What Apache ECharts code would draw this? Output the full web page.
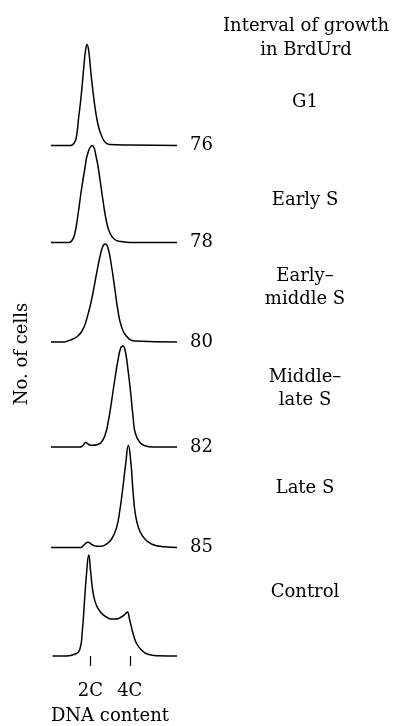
<!DOCTYPE html>
<html>
<head>
<meta charset="utf-8">
<title>DNA content histograms</title>
<script src="https://cdn.jsdelivr.net/npm/echarts@6/dist/echarts.min.js"></script>
<style>
  html, body { margin: 0; padding: 0; background: #fff; }
  #main { width: 394px; height: 726px; }
</style>
</head>
<body>
<div id="main"></div>
<script>
// DNA content channel (2C = 50, 4C = 100) vs relative no. of cells
var g1 = [[0,0],[25,0],[29,2],[32,7.5],[35,27],[38.5,51],[41.5,77],[44,96],[45.7,101],[48,94],[50.5,74],[53.3,54],[56.3,36],[59.7,21],[64,10],[69,3],[74.5,1],[100,0.5],[160,0]];
var earlyS = [[0,0],[23,0],[26.5,1.7],[30,8],[34.3,28],[38.5,52],[42.8,73],[47,90],[52.4,97],[57.5,85],[61.8,65],[66,42],[70.2,22],[74.5,10],[80.9,3],[89.3,1],[100,0],[160,0]];
var earlyMiddleS = [[0,0],[17,0],[22,1.3],[28,3],[34,6],[38.5,10],[42,15],[45,22],[51.2,41],[57.5,67],[61.8,84],[66,96],[69,98],[72.4,94],[76.6,77],[80.9,54],[85.1,31],[89.3,16],[95.6,6],[106.3,1],[160,0]];
var middleLateS = [[0,0],[36,0],[39,0.5],[41.5,2.5],[44,4.5],[46.5,3.3],[49,2],[53,1.7],[59.7,2.7],[63.9,4.7],[68.2,10.7],[72.4,24],[76.6,44],[80.9,67],[85.1,87],[88.5,99],[91.4,101],[94.3,96],[97.8,77],[101.2,54],[104.1,31],[107,14],[112.6,4.7],[119,1.3],[130,0],[160,0]];
var lateS = [[0,0],[37,0],[40,1],[43,3.5],[47,5.3],[51.2,3.3],[57.5,1.3],[63.9,1.3],[70.2,3.3],[76.6,8],[82.9,19],[87.2,36],[91.4,61],[94.9,84],[98.2,102],[101.2,87],[104.1,57],[107,34],[111.4,19],[116.8,11],[123.2,5.7],[131.7,2.3],[144.4,0.7],[160,0]];
var control = [[2,0],[20,0],[30,1.7],[36.4,6],[39.7,24],[42.8,58],[45.3,84],[47.9,101],[50.4,84],[53.3,64],[57.5,51],[63.9,43],[70.2,39],[76.6,37],[82.9,37],[89.3,39],[94.3,42],[96.9,44],[99.9,36],[104.1,23],[108.3,13],[114.7,6],[123.2,1.7],[135.9,0.3],[160,0]];

var panels = [g1, earlyS, earlyMiddleS, middleLateS, lateS, control];
var panelIds = ['76', '78', '80', '82', '85', ''];
var intervalNames = ['G1', 'Early S', 'Early\u2013\nmiddle S', 'Middle\u2013\nlate S', 'Late S', 'Control'];
var dnaTicks = [50, 100];
var dnaTickLabels = { 50: '2C', 100: '4C' };

// layout
var baselines = [145.5, 242.5, 342, 447, 547.5, 656];
var nameCenters = [102, 200, 288, 389, 488, 592];
var panelH = 105;
var font = 'DejaVu Serif';
var ink = '#000';
var textFont = '18px "' + font + '"';

var grids = [], xAxes = [], yAxes = [], series = [];
panels.forEach(function (data, i) {
  var last = i === panels.length - 1;
  grids.push({ left: 51, width: 126, top: baselines[i] - panelH, height: panelH });
  xAxes.push({
    type: 'value', gridIndex: i, min: 0, max: 160,
    show: last,
    offset: 11,
    splitLine: { show: false },
    axisLine: { show: false },
    axisTick: { show: last, length: 10, lineStyle: { color: ink, width: 1.2 }, customValues: dnaTicks },
    axisLabel: {
      show: last, margin: 15, color: ink, fontFamily: font, fontSize: 18,
      customValues: dnaTicks,
      formatter: function (v) { return dnaTickLabels[v] || ''; }
    },
    name: last ? 'DNA content' : '',
    nameLocation: 'middle', nameGap: 40,
    nameTextStyle: { color: ink, fontFamily: font, fontSize: 18, padding: [0, 8, 0, 0] }
  });
  yAxes.push({ type: 'value', gridIndex: i, min: 0, max: panelH, show: false });
  series.push({
    type: 'line', xAxisIndex: i, yAxisIndex: i, data: data,
    smooth: 0.5, symbol: 'none', clip: false,
    lineStyle: { color: ink, width: 1.5 },
    endLabel: {
      show: panelIds[i] !== '', distance: 13,
      formatter: panelIds[i], color: ink, fontFamily: font, fontSize: 18
    }
  });
});

var graphics = [
  { type: 'text', x: 306, y: 26, style: { text: 'Interval of growth', align: 'center', verticalAlign: 'middle', fill: ink, font: textFont } },
  { type: 'text', x: 306, y: 50, style: { text: 'in BrdUrd', align: 'center', verticalAlign: 'middle', fill: ink, font: textFont } },
  { type: 'text', x: 22, y: 354, rotation: Math.PI / 2, style: { text: 'No. of cells', align: 'center', verticalAlign: 'middle', fill: ink, font: textFont } }
];
intervalNames.forEach(function (name, i) {
  graphics.push({
    type: 'text', x: 305, y: nameCenters[i],
    style: { text: name, align: 'center', verticalAlign: 'middle', fill: ink, font: textFont, lineHeight: 23 }
  });
});

var myChart = echarts.init(document.getElementById('main'));
myChart.setOption({
  animation: false,
  backgroundColor: '#fff',
  grid: grids,
  xAxis: xAxes,
  yAxis: yAxes,
  series: series,
  graphic: graphics
});
</script>
</body>
</html>
